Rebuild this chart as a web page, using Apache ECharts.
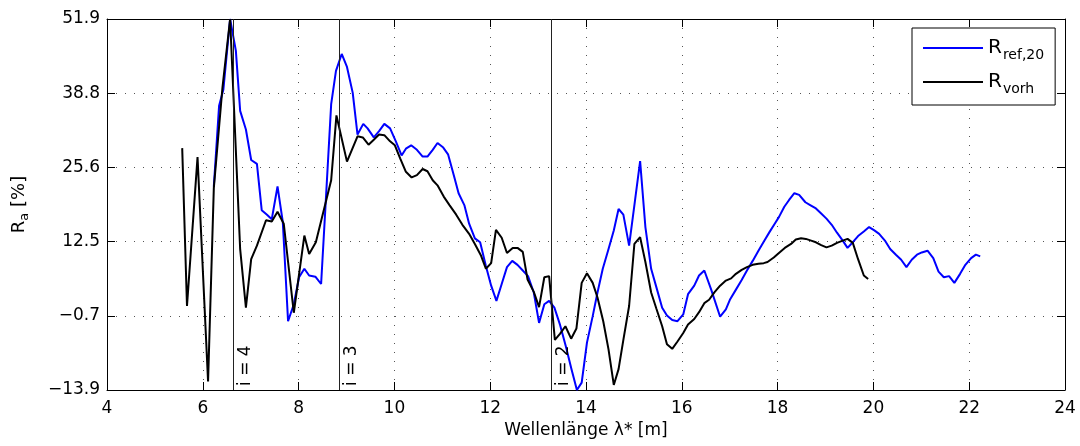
<!DOCTYPE html>
<html>
<head>
<meta charset="utf-8">
<script src="https://cdn.jsdelivr.net/npm/echarts@6/dist/echarts.min.js"></script>
<style>
  html, body { margin: 0; padding: 0; background: #fff; }
  #chart { width: 1080px; height: 446px; }
</style>
</head>
<body>
<div id="chart"></div>
<script>
// Wavelength axis [m] and relative amplitude R_a [%]
const xMin = 4, xMax = 24, xStep = 2;
const yMin = -13.9, yMax = 51.9, yStep = 13.16;
const yTickLabels = ['\u221213.9', '\u22120.7', '12.5', '25.6', '38.8', '51.9'];

// Stage boundaries (wavelength where the stage index changes)
const stageBounds = [6.64, 8.85, 13.27];
const stageLabels = ['i = 4', 'i = 3', 'i = 2'];

// R_ref,20 : [wavelength, R_a]
const refSeries = [
  [6.23,22.2],[6.34,36.5],[6.43,39.4],[6.57,51.9],[6.69,46.3],[6.78,35.6],[6.90,32.3],
  [7.01,26.9],[7.13,26.2],[7.23,18.0],[7.34,17.2],[7.44,16.4],[7.56,22.2],[7.67,15.9],
  [7.78,-1.7],[7.90,1.3],[8.01,6.1],[8.12,7.6],[8.22,6.4],[8.35,6.2],[8.47,4.9],
  [8.57,20.0],[8.68,36.8],[8.78,42.7],[8.90,45.7],[9.01,43.4],[9.13,38.8],[9.23,31.4],
  [9.35,33.3],[9.44,32.5],[9.57,30.9],[9.68,32.0],[9.79,33.3],[9.91,32.5],[10.03,30.2],
  [10.15,27.7],[10.24,28.9],[10.35,29.5],[10.47,28.7],[10.59,27.5],[10.69,27.5],[10.80,28.7],
  [10.90,29.9],[11.02,29.1],[11.12,27.9],[11.24,24.2],[11.34,21.0],[11.46,18.9],[11.56,15.6],
  [11.68,13.0],[11.79,12.3],[11.91,8.1],[12.02,4.6],[12.13,1.9],[12.24,4.9],[12.35,7.9],
  [12.46,9.0],[12.57,8.3],[12.68,7.3],[12.79,6.3],[12.91,3.4],[13.02,-2.0],[13.13,1.3],
  [13.23,1.9],[13.34,0.7],[13.46,-2.4],[13.58,-6.2],[13.70,-10.3],[13.81,-13.9],[13.91,-12.6],
  [14.02,-5.5],[14.14,-0.8],[14.24,3.4],[14.35,7.6],[14.46,10.8],[14.58,14.4],[14.68,18.2],
  [14.78,17.2],[14.90,11.7],[15.02,19.5],[15.13,26.7],[15.24,15.0],[15.36,7.6],[15.47,4.3],
  [15.59,0.7],[15.69,-0.7],[15.80,-1.5],[15.91,-1.7],[16.03,-0.5],[16.13,3.1],[16.26,4.6],
  [16.36,6.4],[16.47,7.3],[16.61,4.0],[16.80,-0.9],[16.92,0.4],[17.01,2.2],[17.13,3.9],
  [17.25,5.6],[17.36,7.3],[17.48,9.0],[17.60,10.8],[17.71,12.4],[17.83,14.1],[17.94,15.6],
  [18.03,16.8],[18.14,18.6],[18.24,19.8],[18.35,21.0],[18.45,20.7],[18.58,19.4],[18.68,18.9],
  [18.80,18.3],[18.91,17.4],[19.02,16.5],[19.13,15.4],[19.24,14.0],[19.36,12.6],[19.46,11.3],
  [19.58,12.4],[19.68,13.4],[19.80,14.2],[19.91,15.0],[20.02,14.4],[20.12,13.8],[20.24,12.6],
  [20.35,11.1],[20.47,10.1],[20.58,9.2],[20.69,7.9],[20.80,9.2],[20.91,10.1],[21.01,10.5],
  [21.13,10.8],[21.25,9.5],[21.36,7.1],[21.47,6.1],[21.58,6.3],[21.69,5.1],[21.81,6.7],
  [21.92,8.3],[22.04,9.5],[22.14,10.1],[22.23,9.8]
];

// R_vorh : [wavelength, R_a]
const vorhSeries = [
  [5.57,29.0],[5.67,1.0],[5.89,27.4],[6.11,-12.4],[6.23,21.9],[6.41,39.7],[6.57,51.9],
  [6.78,11.1],[6.90,0.7],[7.01,9.3],[7.13,11.7],[7.32,16.2],[7.44,16.0],[7.56,17.7],
  [7.69,15.6],[7.90,-0.2],[8.12,13.5],[8.22,10.2],[8.36,12.3],[8.68,23.3],[8.79,34.8],
  [9.01,26.6],[9.23,31.1],[9.34,30.9],[9.46,29.6],[9.57,30.5],[9.68,31.4],[9.79,31.3],
  [9.91,30.2],[10.01,29.5],[10.12,27.2],[10.24,24.8],[10.36,23.8],[10.47,24.2],[10.59,25.3],
  [10.69,24.9],[10.80,23.3],[10.90,22.4],[11.03,20.4],[11.15,18.9],[11.29,17.2],[11.42,15.4],
  [11.56,13.8],[11.68,12.0],[11.81,9.9],[11.91,7.6],[12.02,8.6],[12.12,14.5],[12.24,13.1],
  [12.35,10.4],[12.47,11.3],[12.57,11.3],[12.68,10.6],[12.78,5.7],[12.91,3.5],[13.02,0.8],
  [13.13,6.1],[13.23,6.3],[13.35,-5.0],[13.46,-3.9],[13.57,-2.6],[13.69,-4.8],[13.80,-3.0],
  [13.91,5.1],[14.02,6.8],[14.14,5.1],[14.24,2.5],[14.36,-1.7],[14.47,-6.7],[14.58,-13.0],
  [14.68,-10.2],[14.78,-5.0],[14.90,1.0],[15.01,12.0],[15.13,13.2],[15.24,8.8],[15.36,3.4],
  [15.47,0.5],[15.59,-2.6],[15.69,-5.8],[15.80,-6.6],[15.91,-5.3],[16.03,-3.8],[16.13,-2.3],
  [16.26,-1.3],[16.36,-0.1],[16.47,1.5],[16.57,2.1],[16.68,3.4],[16.80,4.6],[16.92,5.5],
  [17.03,5.9],[17.13,6.7],[17.25,7.4],[17.36,7.9],[17.48,8.3],[17.60,8.5],[17.71,8.6],
  [17.79,8.8],[17.92,9.6],[18.04,10.5],[18.15,11.3],[18.28,12.0],[18.38,12.8],[18.49,13.0],
  [18.59,12.9],[18.70,12.6],[18.80,12.3],[18.91,11.8],[19.02,11.4],[19.13,11.7],[19.24,12.2],
  [19.36,12.6],[19.46,12.9],[19.57,12.2],[19.68,9.3],[19.80,6.4],[19.89,5.8]
];

const FONT = 'DejaVu Sans';
const gridLine = { show: true, lineStyle: { color: '#555', width: 1, type: [1, 8] } };
const frameLine = { show: true, onZero: false, lineStyle: { color: '#000', width: 1 } };
const innerTick = { show: true, inside: true, length: 8, lineStyle: { color: '#000', width: 1 } };

function yLabel(v) {
  const k = Math.round((v - yMin) / yStep);
  return yTickLabels[k] !== undefined ? yTickLabels[k] : '';
}

const chart = echarts.init(document.getElementById('chart'), null, { renderer: 'canvas' });

chart.setOption({
  animation: false,
  backgroundColor: '#fff',
  textStyle: { fontFamily: FONT, color: '#000' },
  grid: { left: 107, right: 15, top: 19, bottom: 56, containLabel: false },
  legend: {
    orient: 'vertical',
    left: 912,
    top: 28,
    padding: [10, 11, 9, 11],
    itemGap: 10,
    itemWidth: 60,
    itemHeight: 2,
    icon: 'rect',
    backgroundColor: '#fff',
    borderColor: '#000',
    borderWidth: 1,
    borderRadius: 0,
    data: ['ref', 'vorh'],
    formatter: function (name) {
      return name === 'ref' ? '{r|R}{s|ref,20}' : '{r|R}{s|vorh}';
    },
    textStyle: {
      fontFamily: FONT,
      color: '#000',
      rich: {
        r: { fontFamily: FONT, fontSize: 20, lineHeight: 28, verticalAlign: 'middle', color: '#000' },
        s: { fontFamily: FONT, fontSize: 14, lineHeight: 28, verticalAlign: 'bottom', color: '#000', padding: [0, 0, 0, 1] }
      }
    }
  },
  xAxis: [
    {
      type: 'value', min: xMin, max: xMax, interval: xStep, position: 'bottom',
      name: 'Wellenlänge \u03bb* [m]', nameLocation: 'middle', nameGap: 29,
      nameTextStyle: { fontFamily: FONT, fontSize: 17, color: '#000' },
      axisLine: frameLine, axisTick: innerTick, splitLine: gridLine,
      axisLabel: { fontFamily: FONT, fontSize: 17, color: '#000', margin: 10 }
    },
    {
      type: 'value', min: xMin, max: xMax, interval: xStep, position: 'top',
      axisLine: frameLine, axisTick: innerTick, splitLine: { show: false },
      axisLabel: { show: false }
    }
  ],
  yAxis: [
    {
      type: 'value', min: yMin, max: yMax, interval: yStep, position: 'left',
      name: '{r|R}{s|a}{r| [%]}', nameLocation: 'middle', nameGap: 76, nameRotate: 90,
      nameTextStyle: {
        fontFamily: FONT, color: '#000',
        rich: {
          r: { fontFamily: FONT, fontSize: 18, lineHeight: 24, verticalAlign: 'middle', color: '#000' },
          s: { fontFamily: FONT, fontSize: 13, lineHeight: 24, verticalAlign: 'bottom', color: '#000' }
        }
      },
      axisLine: frameLine, axisTick: innerTick, splitLine: gridLine,
      axisLabel: { fontFamily: FONT, fontSize: 17, color: '#000', margin: 7, formatter: yLabel,
                   showMinLabel: true, showMaxLabel: true }
    },
    {
      type: 'value', min: yMin, max: yMax, interval: yStep, position: 'right',
      axisLine: frameLine, axisTick: innerTick, splitLine: { show: false },
      axisLabel: { show: false }
    }
  ],
  series: [
    {
      name: 'ref', type: 'line', data: refSeries, symbol: 'none', clip: true,
      lineStyle: { color: '#0000ff', width: 2 }, itemStyle: { color: '#0000ff' }, z: 3
    },
    {
      name: 'vorh', type: 'line', data: vorhSeries, symbol: 'none', clip: true,
      lineStyle: { color: '#000', width: 2 }, itemStyle: { color: '#000' }, z: 4,
      markLine: {
        silent: true,
        symbol: ['none', 'none'],
        lineStyle: { color: '#222', width: 1, type: 'solid' },
        label: {
          show: true, position: 'insideStartBottom', distance: 4,
          fontFamily: FONT, fontSize: 17, color: '#000'
        },
        data: stageBounds.map((b, i) => ({ xAxis: b, label: { formatter: stageLabels[i] } }))
      }
    }
  ]
});
</script>
</body>
</html>
